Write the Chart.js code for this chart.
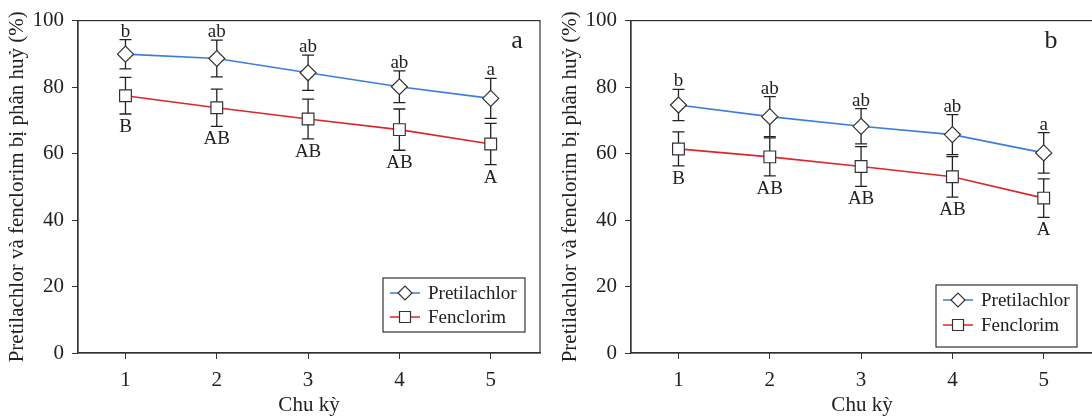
<!DOCTYPE html>
<html>
<head>
<meta charset="utf-8">
<script src="https://cdn.jsdelivr.net/npm/chart.js@4.4.1/dist/chart.umd.min.js"></script>
<style>
  html, body { margin: 0; padding: 0; background: #fff; overflow: hidden; width: 1092px; height: 420px; }
  .panel { position: absolute; top: 0; width: 553px; height: 420px; }
</style>
</head>
<body>
<div class="panel" style="left:0"><canvas id="chartA" width="553" height="420"></canvas></div>
<div class="panel" style="left:553px"><canvas id="chartB" width="553" height="420"></canvas></div>
<script>
// data
const cycles = [1, 2, 3, 4, 5];
const seriesNames = ['Pretilachlor', 'Fenclorim'];

// panel a
const pretiA = [89.9, 88.6, 84.3, 80.1, 76.6];
const pretiErrA = [4.4, 5.5, 5.3, 4.8, 6.0];
const fencA = [77.4, 73.8, 70.4, 67.2, 62.9];
const fencErrA = [5.5, 5.6, 6.0, 6.2, 6.2];

// panel b
const pretiB = [74.6, 71.1, 68.2, 65.7, 60.2];
const pretiErrB = [4.7, 6.0, 5.3, 6.0, 6.1];
const fencB = [61.4, 59.0, 56.1, 53.0, 46.6];
const fencErrB = [5.1, 5.7, 6.0, 6.1, 5.8];

// significance letters
const lettersUpper = ['b', 'ab', 'ab', 'ab', 'a'];
const lettersLower = ['B', 'AB', 'AB', 'AB', 'A'];

const SERIF = "'Liberation Serif', 'Times New Roman', serif";
const INK = '#222';
Chart.defaults.font.family = SERIF;
Chart.defaults.color = INK;

function diamond(ctx, x, y, r) {
  ctx.beginPath();
  ctx.moveTo(x - r, y); ctx.lineTo(x, y - r); ctx.lineTo(x + r, y); ctx.lineTo(x, y + r);
  ctx.closePath(); ctx.fill(); ctx.stroke();
}
function square(ctx, x, y, h) {
  ctx.beginPath(); ctx.rect(x - h, y - h, 2 * h, 2 * h); ctx.fill(); ctx.stroke();
}

// error bars, letters, frame, legend box and panel letter
const extras = {
  id: 'extras',
  beforeDatasetsDraw(chart, args, o) {
    const { ctx, scales: { x, y } } = chart;
    ctx.save();
    ctx.strokeStyle = INK; ctx.lineWidth = 1.3;
    chart.data.datasets.forEach((ds, i) => {
      const err = o.errors[i];
      ds.data.forEach((p, j) => {
        const px = x.getPixelForValue(p.x);
        const t = y.getPixelForValue(p.y + err[j]);
        const b = y.getPixelForValue(p.y - err[j]);
        ctx.beginPath();
        ctx.moveTo(px, t); ctx.lineTo(px, b);
        ctx.moveTo(px - 6, t); ctx.lineTo(px + 6, t);
        ctx.moveTo(px - 6, b); ctx.lineTo(px + 6, b);
        ctx.stroke();
      });
    });
    ctx.restore();
  },
  afterDatasetsDraw(chart, args, o) {
    const { ctx, chartArea: a, scales: { x, y } } = chart;
    const [up, lo] = chart.data.datasets;
    ctx.save();
    ctx.fillStyle = INK;
    ctx.font = '19px ' + SERIF;
    ctx.textAlign = 'center';
    ctx.textBaseline = 'alphabetic';
    up.data.forEach((p, j) => {
      const t = y.getPixelForValue(p.y + o.errors[0][j]);
      ctx.fillText(lettersUpper[j], x.getPixelForValue(p.x), t - 3);
    });
    lo.data.forEach((p, j) => {
      const b = y.getPixelForValue(p.y - o.errors[1][j]);
      ctx.fillText(lettersLower[j], x.getPixelForValue(p.x), b + 18);
    });
    // frame
    ctx.strokeStyle = '#333'; ctx.lineWidth = 1.2;
    ctx.strokeRect(a.left, a.top, a.right - a.left, a.bottom - a.top);
    // panel letter
    ctx.font = '26px ' + SERIF;
    ctx.fillText(o.panel, a.right - o.panelDx, a.top + o.panelDy);
    // legend
    const L = o.legend;
    ctx.fillStyle = '#fff';
    ctx.fillRect(L.x, L.y, L.w, L.h);
    ctx.strokeStyle = '#333'; ctx.lineWidth = 1.2;
    ctx.strokeRect(L.x, L.y, L.w, L.h);
    ctx.font = '19px ' + SERIF;
    ctx.textAlign = 'left'; ctx.textBaseline = 'middle';
    chart.data.datasets.forEach((ds, i) => {
      const ry = L.y + L.row0 + i * L.gap;
      ctx.strokeStyle = ds.borderColor; ctx.lineWidth = 1.5;
      ctx.beginPath(); ctx.moveTo(L.x + 7, ry); ctx.lineTo(L.x + 37, ry); ctx.stroke();
      ctx.fillStyle = '#fff'; ctx.strokeStyle = '#333'; ctx.lineWidth = 1.2;
      if (i === 0) diamond(ctx, L.x + 22, ry, 7); else square(ctx, L.x + 22, ry, 5.5);
      ctx.fillStyle = INK;
      ctx.fillText(ds.label, L.x + 45, ry + 1);
    });
    ctx.restore();
  }
};

function makeChart(id, preti, pretiErr, fenc, fencErr, panel, panelDx, legend) {
  const toPts = vals => cycles.map((c, i) => ({ x: c, y: vals[i] }));
  return new Chart(document.getElementById(id), {
    type: 'line',
    data: {
      datasets: [{
        label: seriesNames[0],
        data: toPts(preti),
        borderColor: '#3b7dd8',
        borderWidth: 1.6,
        pointStyle: 'rectRot',
        pointRadius: 8,
        pointBackgroundColor: '#fff',
        pointBorderColor: '#333',
        pointBorderWidth: 1.2
      }, {
        label: seriesNames[1],
        data: toPts(fenc),
        borderColor: '#d9262b',
        borderWidth: 1.6,
        pointStyle: 'rect',
        pointRadius: 8.3,
        pointBackgroundColor: '#fff',
        pointBorderColor: '#333',
        pointBorderWidth: 1.2
      }]
    },
    options: {
      responsive: false,
      animation: false,
      devicePixelRatio: 1,
      layout: { padding: { top: 16, right: 13, bottom: 0, left: 0 } },
      scales: {
        x: {
          type: 'linear',
          min: 0.48,
          max: 5.54,
          afterBuildTicks: s => { s.ticks = cycles.map(v => ({ value: v })); },
          afterFit: s => { s.height = 67; },
          grid: { drawOnChartArea: false, drawTicks: true, tickLength: 6, color: '#333' },
          border: { color: '#333', width: 1.2 },
          ticks: { font: { size: 21 }, padding: 9, color: INK, maxRotation: 0 },
          title: { display: true, text: 'Chu kỳ', font: { size: 21 }, color: INK, padding: { top: 0, bottom: 2 } }
        },
        y: {
          min: 0,
          max: 100,
          afterFit: s => { s.width = 78; },
          grid: { drawOnChartArea: false, drawTicks: true, tickLength: 6, color: '#333' },
          border: { color: '#333', width: 1.2 },
          ticks: { stepSize: 20, font: { size: 21 }, padding: 8, color: INK },
          title: { display: true, text: 'Pretilachlor và fenclorim bị phân huỷ (%)', font: { size: 21 }, color: INK, padding: { top: 5, bottom: 0 } }
        }
      },
      plugins: {
        legend: { display: false },
        tooltip: { enabled: false },
        extras: {
          errors: [pretiErr, fencErr],
          panel: panel,
          panelDx: panelDx,
          panelDy: 27,
          legend: legend
        }
      }
    },
    plugins: [extras]
  });
}

makeChart('chartA', pretiA, pretiErrA, fencA, fencErrA, 'a', 23,
  { x: 383, y: 278, w: 142, h: 54, row0: 15, gap: 24 });
makeChart('chartB', pretiB, pretiErrB, fencB, fencErrB, 'b', 42,
  { x: 383, y: 285, w: 141, h: 62, row0: 15, gap: 25 });
</script>
</body>
</html>
